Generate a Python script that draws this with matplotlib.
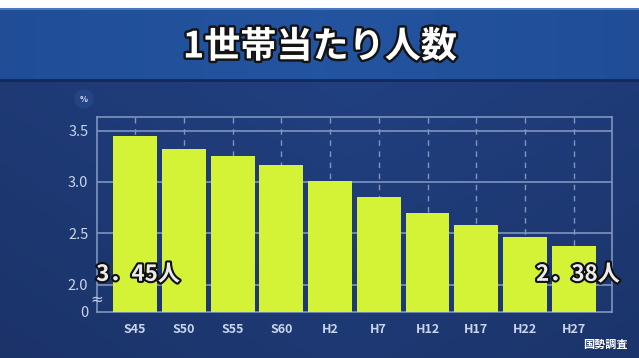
import numpy as np
import matplotlib
matplotlib.use("Agg")
from matplotlib import pyplot as plt
from matplotlib import patheffects as pe
from matplotlib.patches import Rectangle, Circle

plt.rcParams['font.family'] = ['Noto Sans CJK JP', 'DejaVu Sans']

# --- Data ---
TITLE = "1世帯当たり人数"
categories = ["S45", "S50", "S55", "S60", "H2", "H7", "H12", "H17", "H22", "H27"]
values = [3.45, 3.32, 3.25, 3.17, 3.01, 2.85, 2.70, 2.58, 2.46, 2.38]
ytick_values = [1.738, 2.0, 2.5, 3.0, 3.5]
ytick_labels = ["0", "2.0", "2.5", "3.0", "3.5"]
first_label = "3．45人"
last_label = "2．38人"
source = "国勢調査"

W, H = 639, 358
BAR_COLOR = "#d4f236"
GRID_COLOR = "#7f95bf"
TICK_COLOR = "#c9d5ea"

fig = plt.figure(figsize=(W / 100, H / 100), dpi=100)

# --- background (pixel coords, y down) ---
bg = fig.add_axes([0, 0, 1, 1])
bg.set_xlim(0, W); bg.set_ylim(H, 0); bg.axis("off")
yy = np.linspace(0, 1, 200)[:, None]
xx = np.linspace(0, 1, 300)[None, :]
light = 1 - 0.5 * np.abs(xx - 0.55) - 0.35 * yy
c0, c1 = np.array([0.09, 0.17, 0.36]), np.array([0.13, 0.25, 0.50])
grad = c0 + (c1 - c0) * light[..., None]
bg.imshow(grad, extent=[0, W, H, 80], aspect="auto", zorder=0)
bg.add_patch(Rectangle((0, 0), W, 8, color="white", zorder=1))
bx = np.linspace(0, 1, 300)[None, :]
ban = 1 - 0.6 * np.abs(bx - 0.5)
b0, b1 = np.array([0.10, 0.24, 0.50]), np.array([0.14, 0.33, 0.63])
bgrad = b0 + (b1 - b0) * np.repeat(ban, 10, axis=0)[..., None]
bg.imshow(bgrad, extent=[0, W, 80, 8], aspect="auto", zorder=1)
bg.plot([0, W], [9, 9], color="#4a78bc", lw=1.5, zorder=2)
bg.plot([0, W], [80, 80], color="#122a5a", lw=2, zorder=2)
bg.text(320, 47, TITLE, color="white", fontsize=26, fontweight="bold",
        ha="center", va="center", zorder=3,
        path_effects=[pe.withStroke(linewidth=3.5, foreground="#141414")])
bg.add_patch(Circle((84, 99), 9, color="#244483", zorder=2))
bg.text(84, 99, "%", color="#d8e2f2", fontsize=6, fontweight="bold",
        ha="center", va="center", zorder=3)
bg.text(605, 344, source, color="white", fontsize=8, fontweight="bold",
        ha="center", va="center", zorder=3)

# --- chart ---
ax = fig.add_axes([96.7 / W, 1 - 311.5 / H, (611.7 - 96.7) / W, (311.5 - 116.7) / H])
ax.patch.set_alpha(0)
x = np.arange(len(categories))
ax.bar(x, values, width=0.9, color=BAR_COLOR, zorder=3)
ax.set_xlim(-0.79, 9.78)
ax.set_ylim(1.738, 3.636)
for v in ytick_values[1:]:
    ax.axhline(v, color=GRID_COLOR, lw=1.2, zorder=1)
for xi in x:
    ax.axvline(xi, color=GRID_COLOR, lw=1.0, ls=(0, (4, 4)), zorder=1)
for s in ax.spines.values():
    s.set_color(GRID_COLOR); s.set_linewidth(1.2)
ax.set_yticks(ytick_values, ytick_labels)
ax.set_xticks(x, categories)
ax.tick_params(length=0, colors=TICK_COLOR, labelsize=10, pad=8)
for lab in ax.get_xticklabels():
    lab.set_fontweight("bold"); lab.set_fontsize(9)
for lab in ax.get_yticklabels():
    lab.set_fontsize(10.5)
ax.tick_params(axis="y", pad=6)
ax.text(-0.0, 0.06, "≈", transform=ax.transAxes, color=TICK_COLOR, fontsize=11,
        ha="center", va="center", family=["DejaVu Sans"])

lab_fx = [pe.withStroke(linewidth=3, foreground="#111111")]
ax.text(x[0] - 0.8, 2.1, first_label, color="#ececec", fontsize=16, fontweight="bold",
        ha="left", va="center", zorder=5, path_effects=lab_fx)
ax.text(x[-1] + 0.95, 2.1, last_label, color="#ececec", fontsize=16, fontweight="bold",
        ha="right", va="center", zorder=5, path_effects=lab_fx)

fig.savefig("out.png", dpi=100)
